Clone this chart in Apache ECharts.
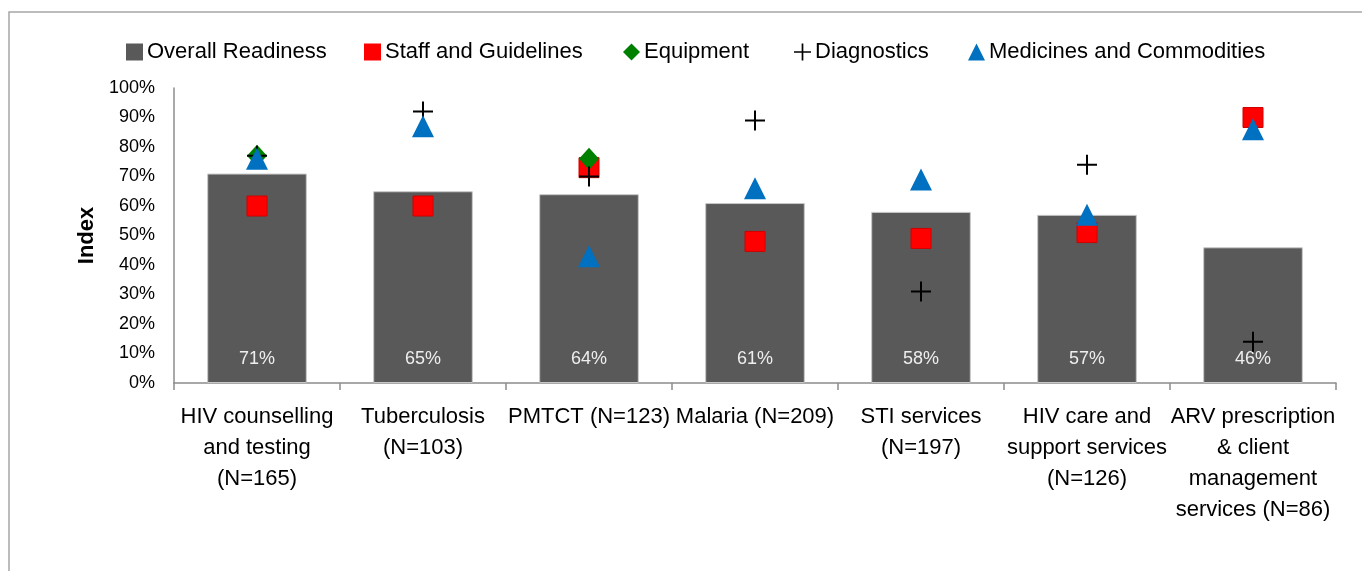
<!DOCTYPE html>
<html>
<head>
<meta charset="utf-8">
<script src="https://cdn.jsdelivr.net/npm/echarts@6/dist/echarts.min.js"></script>
<style>
html,body{margin:0;padding:0;background:#fff;}
#chart{width:1362px;height:571px;}
</style>
</head>
<body>
<div id="chart"></div>
<script>
const categories = [
  'HIV counselling\nand testing\n(N=165)',
  'Tuberculosis\n(N=103)',
  'PMTCT (N=123)',
  'Malaria (N=209)',
  'STI services\n(N=197)',
  'HIV care and\nsupport services\n(N=126)',
  'ARV prescription\n& client\nmanagement\nservices (N=86)'
];
const overallReadiness = [71, 65, 64, 61, 58, 57, 46];
const staffGuidelines = [60, 60, 73, 48, 49, 51, 90];
const equipment = [77, null, 76, null, null, null, null];
const diagnostics = [77, 92, 70, 89, 31, 74, 14];
const medicines = [76, 87, 43, 66, 69, 57, 86];
const yTicks = [0, 10, 20, 30, 40, 50, 60, 70, 80, 90, 100];
const legendNames = ['Overall Readiness', 'Staff and Guidelines', 'Equipment', 'Diagnostics', 'Medicines and Commodities'];

const FONT = '"Liberation Sans", Arial, sans-serif';
const plusPath = 'path://M0,9H20V11H0Z M9,0H11V20H9Z';
const legendIcons = ['rect', 'rect', 'diamond', plusPath, 'triangle'];
const legendLefts = [126, 364, 623, 794, 968];

function makeLegend(i) {
  return {
    top: 41,
    left: legendLefts[i],
    padding: 0,
    itemWidth: 17,
    itemHeight: 17,
    itemGap: 0,
    itemStyle: {borderWidth: 0},
    textStyle: {fontFamily: FONT, fontSize: 22, color: '#000', padding: [2, 0, 0, -1]},
    data: [{name: legendNames[i], icon: legendIcons[i]}]
  };
}

const chart = echarts.init(document.getElementById('chart'), null, {renderer: 'canvas'});
chart.setOption({
  animation: false,
  backgroundColor: '#ffffff',
  textStyle: {fontFamily: FONT},
  graphic: [{
    type: 'polyline',
    shape: {points: [[9, 571], [9, 12], [1362, 12]]},
    style: {stroke: '#a6a6a6', lineWidth: 1.5, fill: null},
    silent: true
  }],
  legend: [0, 1, 2, 3, 4].map(makeLegend),
  grid: {left: 174, right: 26, top: 88, bottom: 188, containLabel: false},
  xAxis: {
    type: 'category',
    data: categories,
    boundaryGap: true,
    axisLine: {lineStyle: {color: '#8c8c8c', width: 1.5}},
    axisTick: {show: true, length: 7, lineStyle: {color: '#8c8c8c', width: 1.5}},
    axisLabel: {
      interval: 0,
      margin: 18,
      fontFamily: FONT,
      fontSize: 22,
      lineHeight: 31,
      color: '#000'
    }
  },
  yAxis: {
    type: 'value',
    min: 0,
    max: 100,
    interval: 10,
    name: 'Index',
    nameLocation: 'middle',
    nameGap: 76,
    nameTextStyle: {fontFamily: FONT, fontSize: 22, fontWeight: 'bold', color: '#000'},
    axisLine: {show: true, lineStyle: {color: '#8c8c8c', width: 1.5}},
    axisTick: {show: false},
    splitLine: {show: false},
    axisLabel: {
      fontFamily: FONT,
      fontSize: 18,
      color: '#000',
      margin: 19,
      formatter: function (v) { return yTicks.indexOf(v) >= 0 ? v + '%' : ''; }
    }
  },
  series: [
    {
      name: 'Overall Readiness',
      type: 'bar',
      data: overallReadiness,
      barWidth: '60%',
      itemStyle: {color: '#595959', borderColor: '#c8c8c8', borderWidth: 1},
      label: {
        show: true,
        position: 'insideBottom',
        distance: 15,
        formatter: '{c}%',
        fontFamily: FONT,
        fontSize: 18,
        color: '#eeeeee'
      },
      z: 1
    },
    {
      name: 'Staff and Guidelines',
      type: 'scatter',
      data: staffGuidelines,
      symbol: 'rect',
      symbolSize: 20,
      itemStyle: {color: '#ff0000', borderColor: '#d00000', borderWidth: 1, opacity: 1},
      z: 2
    },
    {
      name: 'Equipment',
      type: 'scatter',
      data: equipment,
      symbol: 'diamond',
      symbolSize: [20, 22],
      itemStyle: {color: '#008000', opacity: 1},
      z: 3
    },
    {
      name: 'Diagnostics',
      type: 'scatter',
      data: diagnostics,
      symbol: plusPath,
      symbolSize: 20,
      itemStyle: {color: '#000000', opacity: 1},
      z: 4
    },
    {
      name: 'Medicines and Commodities',
      type: 'scatter',
      data: medicines,
      symbol: 'triangle',
      symbolSize: [22, 22],
      itemStyle: {color: '#0070c0', opacity: 1},
      z: 5
    }
  ]
});
</script>
</body>
</html>
